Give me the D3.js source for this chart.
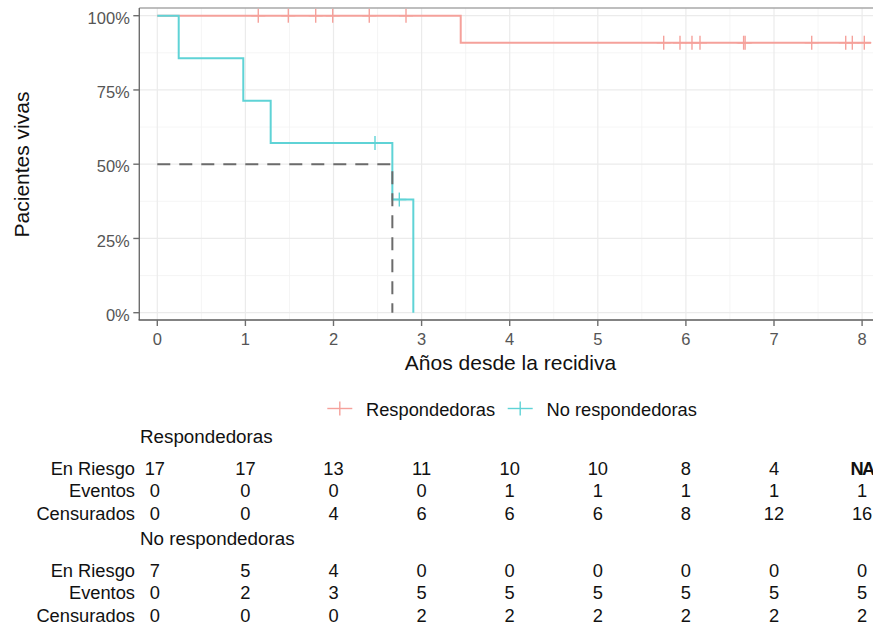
<!DOCTYPE html>
<html>
<head>
<meta charset="utf-8">
<script src="https://cdn.jsdelivr.net/npm/d3@7"></script>
<style>
  body { margin: 0; background: #fff; }
  svg { display: block; }
  text { font-family: "Liberation Sans", Arial, sans-serif; }
</style>
</head>
<body>
<svg id="chart" width="873" height="627"></svg>
<script>
// Kaplan-Meier curves: survival after recurrence by response group
const groups = ["Respondedoras", "No respondedoras"];
const groupColors = ["#f5a19b", "#5fd3d6"];

// step curves (time in years, survival proportion)
const respTime = [0, 3.444, 8.1];
const respSurv = [1, 0.909, 0.909];
const noRespTime = [0, 0.243, 0.976, 1.287, 2.668, 2.906];
const noRespSurv = [1, 0.857, 0.714, 0.571, 0.381, 0];

// censoring times
const respCensor = [1.146, 1.487, 1.798, 1.991, 2.406, 2.823, 5.748, 5.933,
                    6.069, 6.160, 6.655, 6.672, 7.428, 7.814, 7.889, 8.025];
const noRespCensor = [2.471, 2.747];

// median survival of the non-responder group
const medianTime = 2.668;
const medianSurv = 0.5;

const xTicks = [0, 1, 2, 3, 4, 5, 6, 7, 8];
const yTicks = [0, 0.25, 0.5, 0.75, 1];
const yMinor = [0.125, 0.375, 0.625, 0.875];
const xMinor = [0.5, 1.5, 2.5, 3.5, 4.5, 5.5, 6.5, 7.5, 8.5];

// risk table
const tableRows = ["En Riesgo", "Eventos", "Censurados"];
const respAtRisk = [17, 17, 13, 11, 10, 10, 8, 4, "NA"];
const respEvents = [0, 0, 0, 0, 1, 1, 1, 1, 1];
const respCensored = [0, 0, 4, 6, 6, 6, 8, 12, 16];
const noRespAtRisk = [7, 5, 4, 0, 0, 0, 0, 0, 0];
const noRespEvents = [0, 2, 3, 5, 5, 5, 5, 5, 5];
const noRespCensored = [0, 0, 0, 2, 2, 2, 2, 2, 2];

const svg = d3.select("#chart");
svg.append("rect").attr("width", 873).attr("height", 627).attr("fill", "#fff");

const panel = { left: 139.3, right: 882, top: 8, bottom: 320 };
const x = d3.scaleLinear().domain([0, 8]).range([157.3, 862.1]);
const y = d3.scaleLinear().domain([0, 1]).range([312.7, 15.7]);

// grid
const grid = svg.append("g");
grid.selectAll(".xmin").data(xMinor).join("line")
  .attr("x1", d => x(d)).attr("x2", d => x(d))
  .attr("y1", panel.top).attr("y2", panel.bottom)
  .attr("stroke", "#f3f3f3").attr("stroke-width", 0.8);
grid.selectAll(".ymin").data(yMinor).join("line")
  .attr("x1", panel.left).attr("x2", panel.right)
  .attr("y1", d => y(d)).attr("y2", d => y(d))
  .attr("stroke", "#f3f3f3").attr("stroke-width", 0.8);
grid.selectAll(".xmaj").data(xTicks).join("line")
  .attr("x1", d => x(d)).attr("x2", d => x(d))
  .attr("y1", panel.top).attr("y2", panel.bottom)
  .attr("stroke", "#ebebeb").attr("stroke-width", 1.2);
grid.selectAll(".ymaj").data(yTicks).join("line")
  .attr("x1", panel.left).attr("x2", panel.right)
  .attr("y1", d => y(d)).attr("y2", d => y(d))
  .attr("stroke", "#ebebeb").attr("stroke-width", 1.2);

// panel frame
svg.append("line").attr("x1", panel.left).attr("x2", panel.right)
  .attr("y1", panel.top).attr("y2", panel.top)
  .attr("stroke", "#a8a8a8").attr("stroke-width", 1.4);

// survival curves
const step = d3.line().x(d => x(d[0])).y(d => y(d[1])).curve(d3.curveStepAfter);
const curves = [
  { time: respTime, surv: respSurv, censor: respCensor, color: groupColors[0] },
  { time: noRespTime, surv: noRespSurv, censor: noRespCensor, color: groupColors[1] }
];
function survAt(c, t) {
  const i = d3.bisectRight(c.time, t) - 1;
  return c.surv[Math.max(0, i)];
}
curves.forEach(c => {
  svg.append("path")
    .attr("d", step(c.time.map((t, i) => [t, c.surv[i]])))
    .attr("fill", "none").attr("stroke", c.color).attr("stroke-width", 2);
  const g = svg.append("g").attr("stroke", c.color).attr("stroke-width", 1.4);
  c.censor.forEach(t => {
    const cx = x(t), cy = y(survAt(c, t));
    g.append("line").attr("x1", cx).attr("x2", cx).attr("y1", cy - 7).attr("y2", cy + 7);
    g.append("line").attr("x1", cx - 7).attr("x2", cx + 7).attr("y1", cy).attr("y2", cy);
  });
});

// median line
svg.append("path")
  .attr("d", d3.line()([[x(0), y(medianSurv)], [x(medianTime), y(medianSurv)], [x(medianTime), y(0)]]))
  .attr("fill", "none").attr("stroke", "#6b6b6b").attr("stroke-width", 2)
  .attr("stroke-dasharray", "13,9");

// axes
const axisColor = "#6e6e6e";
const yAxis = svg.append("g").attr("transform", `translate(${panel.left},0)`);
yAxis.append("line").attr("x1", 0).attr("x2", 0).attr("y1", panel.top).attr("y2", panel.bottom)
  .attr("stroke", axisColor).attr("stroke-width", 1.4);
yTicks.forEach(v => {
  yAxis.append("line").attr("x1", -6).attr("x2", 0).attr("y1", y(v)).attr("y2", y(v))
    .attr("stroke", axisColor).attr("stroke-width", 1.4);
  yAxis.append("text").attr("x", -9.5).attr("y", y(v) + 8.2)
    .attr("text-anchor", "end").attr("font-size", 16.5).attr("fill", "#555")
    .text(d3.format(".0%")(v));
});
const xAxis = svg.append("g");
xAxis.append("line").attr("x1", panel.left - 0.7).attr("x2", panel.right)
  .attr("y1", panel.bottom).attr("y2", panel.bottom)
  .attr("stroke", "#5a5a5a").attr("stroke-width", 1.6);
xTicks.forEach(v => {
  xAxis.append("line").attr("x1", x(v)).attr("x2", x(v)).attr("y1", panel.bottom).attr("y2", panel.bottom + 6)
    .attr("stroke", axisColor).attr("stroke-width", 1.4);
  xAxis.append("text").attr("x", x(v)).attr("y", 345)
    .attr("text-anchor", "middle").attr("font-size", 16.5).attr("fill", "#555")
    .text(v);
});

// axis titles
svg.append("text").attr("x", 510.5).attr("y", 369.5).attr("text-anchor", "middle")
  .attr("font-size", 21).attr("fill", "#111").text("Años desde la recidiva");
svg.append("text").attr("transform", "translate(28.5,164.5) rotate(-90)")
  .attr("text-anchor", "middle").attr("font-size", 21).attr("fill", "#111").text("Pacientes vivas");

// legend
const legendItems = [
  { label: groups[0], color: groupColors[0], cx: 339.8, tx: 366 },
  { label: groups[1], color: groupColors[1], cx: 520.2, tx: 546.5 }
];
legendItems.forEach(it => {
  const g = svg.append("g").attr("stroke", it.color).attr("stroke-width", 1.4);
  g.append("line").attr("x1", it.cx - 12.5).attr("x2", it.cx + 12.5).attr("y1", 408.5).attr("y2", 408.5);
  g.append("line").attr("x1", it.cx).attr("x2", it.cx).attr("y1", 401.5).attr("y2", 415.5);
  svg.append("text").attr("x", it.tx).attr("y", 415.5).attr("font-size", 18.3).attr("fill", "#111")
    .text(it.label);
});

// risk table
const tables = [
  { title: groups[0], titleY: 443, rows: [respAtRisk, respEvents, respCensored], rowY: [474.5, 497, 519.5] },
  { title: groups[1], titleY: 545, rows: [noRespAtRisk, noRespEvents, noRespCensored], rowY: [577, 599.3, 621.5] }
];
tables.forEach(tb => {
  svg.append("text").attr("x", 140).attr("y", tb.titleY).attr("font-size", 18.8).attr("fill", "#111")
    .text(tb.title);
  tb.rows.forEach((vals, r) => {
    svg.append("text").attr("x", 135).attr("y", tb.rowY[r]).attr("text-anchor", "end")
      .attr("font-size", 18.3).attr("fill", "#111").text(tableRows[r]);
    vals.forEach((v, i) => {
      const t = svg.append("text").attr("x", x(xTicks[i]) - (i === 0 ? 2.5 : 0)).attr("y", tb.rowY[r])
        .attr("text-anchor", "middle").attr("font-size", 18.3).attr("fill", "#111").text(v);
      if (v === "NA") t.attr("font-weight", "bold").attr("letter-spacing", -1.5);
    });
  });
});
</script>
</body>
</html>
